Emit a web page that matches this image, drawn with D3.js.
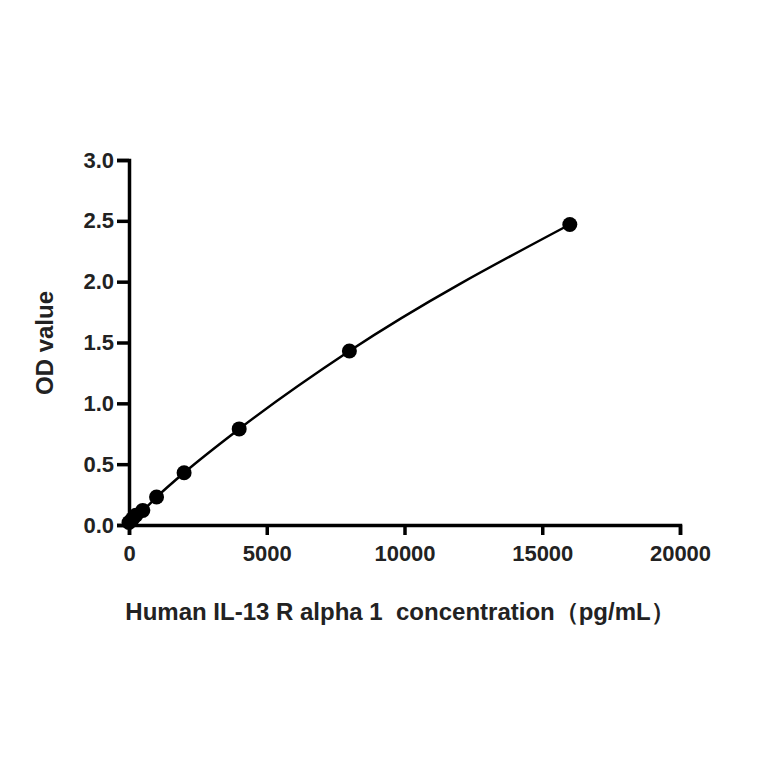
<!DOCTYPE html>
<html><head><meta charset="utf-8">
<script src="https://cdn.jsdelivr.net/npm/d3@7"></script>
<style>body{margin:0;background:#fff}text{font-family:"Liberation Sans",Arial,sans-serif;font-weight:bold;white-space:pre}</style>
</head><body><svg id="c" width="764" height="764"></svg>
<script>
const conc = [0, 125, 250, 500, 1000, 2000, 4000, 8000, 16000];
const od = [0.02, 0.05, 0.08, 0.12, 0.23, 0.43, 0.79, 1.43, 2.47];
const xTicks = [0, 5000, 10000, 15000, 20000];
const yTicks = [0, 0.5, 1.0, 1.5, 2.0, 2.5, 3.0];

const svg = d3.select('#c');
const x = d3.scaleLinear().domain([0, 20000]).range([129, 680]);
const y = d3.scaleLinear().domain([0, 3]).range([525, 160]);
const data = conc.map((c, i) => ({ c, v: od[i] }));

const gx = svg.append('g').attr('transform', 'translate(0,525)')
  .call(d3.axisBottom(x).tickValues(xTicks).tickSize(10).tickFormat(d3.format('d')));
const gy = svg.append('g').attr('transform', 'translate(129,0)')
  .call(d3.axisLeft(y).tickValues(yTicks).tickSize(12).tickFormat(d3.format('.1f')));
[gx, gy].forEach(g => {
  g.selectAll('path,line').attr('stroke', '#000').attr('stroke-width', 3.5);
  g.selectAll('text').attr('font-size', 22).attr('fill', '#222');
});
gx.selectAll('text').attr('dy', '1.05em');
gy.selectAll('text').attr('dx', '0em');

svg.append('path').datum(data)
  .attr('d', d3.line().x(d => x(d.c)).y(d => y(d.v)).curve(d3.curveMonotoneX))
  .attr('fill', 'none').attr('stroke', '#000').attr('stroke-width', 2.5);
svg.selectAll('circle').data(data).join('circle')
  .attr('cx', d => x(d.c)).attr('cy', d => y(d.v)).attr('r', 7.5).attr('fill', '#000');

svg.append('text').attr('x', 400).attr('y', 620).attr('text-anchor', 'middle')
  .attr('font-size', 24).attr('fill', '#222')
  .text('Human IL-13 R alpha 1  concentration\uFF08pg/mL\uFF09');
svg.append('text').attr('transform', 'translate(53,343) rotate(-90)').attr('text-anchor', 'middle')
  .attr('font-size', 24).attr('fill', '#222').text('OD value');
</script></body></html>
